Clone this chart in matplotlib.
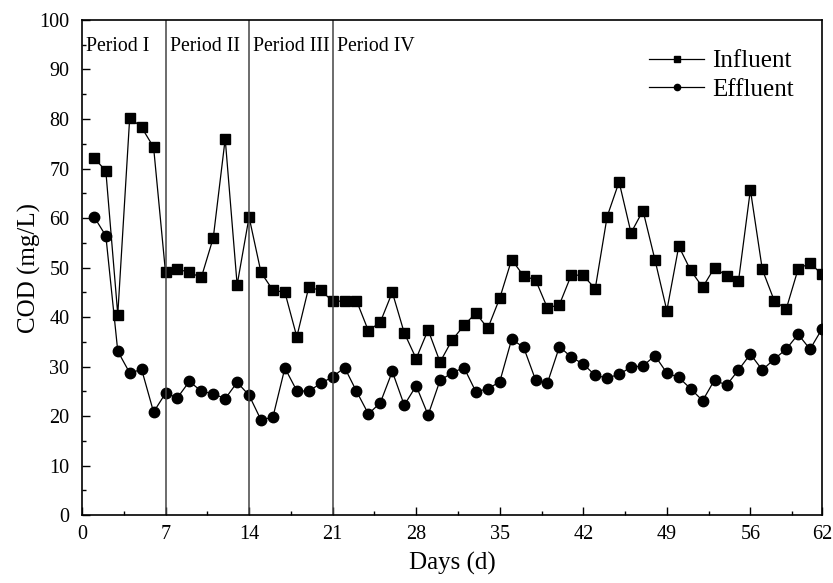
import matplotlib
matplotlib.use('Agg')
import matplotlib.pyplot as plt
from matplotlib.ticker import MultipleLocator

# ── Data ────────────────────────────────────────────────────────────────────
days = list(range(1, 63))
influent = [72.2, 69.5, 40.5, 80.3, 78.3, 74.3, 49.0, 49.7, 49.0, 48.0,
            56.0, 76.0, 46.5, 60.2, 49.0, 45.4, 45.0, 36.0, 46.0, 45.4,
            43.2, 43.2, 43.3, 37.2, 39.0, 45.0, 36.8, 31.6, 37.4, 30.9,
            35.3, 38.3, 40.8, 37.7, 43.8, 51.6, 48.3, 47.5, 41.8, 42.5,
            48.5, 48.4, 45.7, 60.3, 67.3, 57.0, 61.5, 51.6, 41.3, 54.3,
            49.4, 46.0, 50.0, 48.3, 47.2, 65.7, 49.6, 43.3, 41.6, 49.7,
            50.9, 48.6]
effluent = [60.3, 56.4, 33.1, 28.7, 29.4, 20.8, 24.6, 23.7, 27.0, 25.0,
            24.5, 23.5, 26.8, 24.2, 19.2, 19.8, 29.7, 25.1, 25.0, 26.6,
            27.9, 29.8, 25.0, 20.4, 22.7, 29.0, 22.2, 26.1, 20.2, 27.2,
            28.7, 29.8, 24.9, 25.5, 26.9, 35.5, 33.9, 27.3, 26.7, 34.0,
            31.9, 30.5, 28.2, 27.7, 28.4, 29.9, 30.1, 32.2, 28.7, 27.8,
            25.5, 23.1, 27.3, 26.2, 29.3, 32.5, 29.3, 31.5, 33.5, 36.5,
            33.5, 37.6]
period_bounds = [7, 14, 21]
period_labels = ["Period I", "Period II", "Period III", "Period IV"]
period_starts = [0, 7, 14, 21]
xticks = [0, 7, 14, 21, 28, 35, 42, 49, 56, 62]

plt.rcParams['font.family'] = ['Liberation Serif', 'DejaVu Serif']

fig = plt.figure(figsize=(8.33, 5.83), dpi=100)
ax = fig.add_axes([0.0984, 0.1166, 0.8884, 0.8491])

ax.plot(days, influent, color='black', lw=0.9, marker='s', ms=7, label='Influent')
ax.plot(days, effluent, color='black', lw=0.9, marker='o', ms=7.5, label='Effluent')

for b in period_bounds:
    ax.axvline(b, color='#444444', lw=1.1)
for s, lab in zip(period_starts, period_labels):
    ax.text(s + 0.35, 94.6, lab, fontsize=14.2, va='center', ha='left')

ax.set_xlim(0, 62)
ax.set_ylim(0, 100)
ax.set_xticks(xticks)
ax.xaxis.set_minor_locator(MultipleLocator(3.5))
ax.yaxis.set_major_locator(MultipleLocator(10))
ax.yaxis.set_minor_locator(MultipleLocator(5))
ax.tick_params(which='both', direction='in', labelsize=14.5)
ax.tick_params(axis='y', which='major', pad=9)
ax.tick_params(axis='x', which='major', pad=7)
ax.tick_params(which='major', length=6, width=1.0)
ax.tick_params(which='minor', length=3, width=1.0)
for sp in ax.spines.values():
    sp.set_linewidth(1.2)

ax.set_xlabel('Days (d)', fontsize=18, labelpad=6)
ax.set_ylabel('COD (mg/L)', fontsize=18, labelpad=-1)

ax.legend(loc='upper right', frameon=False, fontsize=18, handlelength=2.2,
          handletextpad=0.3, labelspacing=0.25, markerscale=0.6,
          bbox_to_anchor=(0.985, 0.975), borderaxespad=0.3)

fig.savefig('out.png', dpi=100)
